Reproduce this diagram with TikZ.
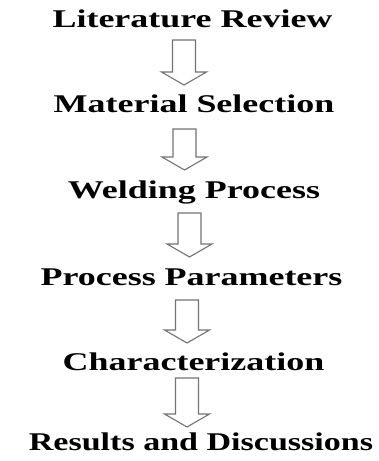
\documentclass[tikz,border=0pt]{standalone}
\usepackage{fontspec}
\setmainfont{Liberation Serif}
\usetikzlibrary{calc}

\tikzset{
  stage/.style={anchor=base, inner sep=0pt, text=black,
    font=\fontsize{25.5}{30}\selectfont\bfseries},
  flowarrow/.style={draw=black!55, line width=1.1pt, line join=miter, fill=white}
}

% hollow downward block arrow from #1 (top of shaft) to #2 (tip)
\newcommand\hollowdown[2]{%
  \draw[flowarrow] let \p1=(#1), \p2=(#2) in
    (\x1-11.5pt,\y1) -- (\x1+11.5pt,\y1) -- (\x1+11.5pt,\y2+13pt)
    -- (\x1+22.5pt,\y2+13pt) -- (\x2,\y2) -- (\x1-22.5pt,\y2+13pt)
    -- (\x1-11.5pt,\y2+13pt) -- cycle;}

\newcommand\stretched[2][1.41]{\scalebox{#1}[1]{#2}}

\begin{document}
\begin{tikzpicture}[x=1pt, y=-1pt]
  \useasboundingbox (0,0) rectangle (379,461);

  % stages
  \node[stage] (lit)  at (192.5,27)  {\stretched{Literature Review}};
  \node[stage] (mat)  at (194,112)   {\stretched{Material Selection}};
  \node[stage] (weld) at (194,198)   {\stretched{Welding Process}};
  \node[stage] (par)  at (191.5,285) {\stretched{Process Parameters}};
  \node[stage] (char) at (193.5,370) {\stretched{Characterization}};
  \node[stage] (res)  at (201,450)   {\stretched[1.335]{Results and Discussions}};

  % arrow end points between the stages
  \coordinate (a1s) at (184,40);   \coordinate (a1e) at (184,85);
  \coordinate (a2s) at (184.5,129); \coordinate (a2e) at (184.5,170);
  \coordinate (a3s) at (189.5,213); \coordinate (a3e) at (189.5,257);
  \coordinate (a4s) at (187,300);  \coordinate (a4e) at (187,343);
  \coordinate (a5s) at (187,378);  \coordinate (a5e) at (187,427);

  \hollowdown{a1s}{a1e}
  \hollowdown{a2s}{a2e}
  \hollowdown{a3s}{a3e}
  \hollowdown{a4s}{a4e}
  \hollowdown{a5s}{a5e}
\end{tikzpicture}
\end{document}
